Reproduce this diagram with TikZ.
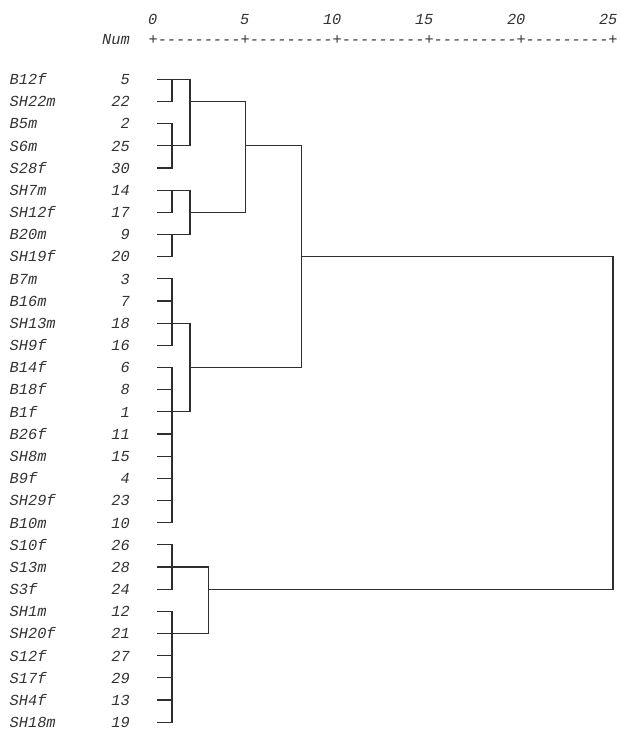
\documentclass[tikz,border=0pt]{standalone}
\usepackage{fontspec}
\setmonofont{Liberation Mono}
\begin{document}
\begin{tikzpicture}[x=1pt,y=-1pt,
  lbl/.style={inner sep=0pt, font=\fontsize{15.33}{18}\selectfont\ttfamily\itshape, text=black!80},
  br/.style={draw=black!82, line width=1.2pt, line cap=rect}]
\useasboundingbox (0,0) rectangle (621,729);
% axis
\foreach \k/\v in {0/0,1/5,2/10,3/15,4/20,5/25}
  \node[lbl, anchor=base east] (ax\v) at (153+\k*92+4.6,24) {\v};
\node[lbl, anchor=base east] (numhead) at (130,44.5) {Num};
\node[lbl, anchor=base west] (scale) at (148.4,44.5) {+---------+---------+---------+---------+---------+};
% rows
\foreach \i/\n/\m in {1/B12f/5,2/SH22m/22,3/B5m/2,4/S6m/25,5/S28f/30,6/SH7m/14,7/SH12f/17,8/B20m/9,9/SH19f/20,10/B7m/3,11/B16m/7,12/SH13m/18,13/SH9f/16,14/B14f/6,15/B18f/8,16/B1f/1,17/B26f/11,18/SH8m/15,19/B9f/4,20/SH29f/23,21/B10m/10,22/S10f/26,23/S13m/28,24/S3f/24,25/SH1m/12,26/SH20f/21,27/S12f/27,28/S17f/29,29/SH4f/13,30/SH18m/19}{
  \pgfmathsetmacro\yy{79.3+(\i-1)*22.17}
  \node[lbl, anchor=base west] (name\i) at (9.5,\yy+5.3) {\n};
  \node[lbl, anchor=base east] (num\i) at (130,\yy+5.3) {\m};
  \coordinate (r\i) at (157.5,\yy);
}
\coordinate (xa) at (172,0);
\coordinate (xb) at (190,0);
\coordinate (xc) at (208.5,0);
\coordinate (xd) at (245.3,0);
\coordinate (xe) at (301.3,0);
\coordinate (xf) at (613,0);
% leaf ticks
\foreach \i in {2,3,5,7,9,10,11,13,14,15,17,18,19,20,21,22,24,25,27,28,29,30}
  \draw[br] (r\i) -- (xa|-r\i);
\foreach \i in {1,4,6,8,12,16}
  \draw[br] (r\i) -- (xb|-r\i);
\foreach \i in {23,26}
  \draw[br] (r\i) -- (xc|-r\i);
% first level
\draw[br] (xa|-r1) -- (xa|-r2);
\draw[br] (xa|-r3) -- (xa|-r5);
\draw[br] (xa|-r6) -- (xa|-r7);
\draw[br] (xa|-r8) -- (xa|-r9);
\draw[br] (xa|-r10) -- (xa|-r13);
\draw[br] (xa|-r14) -- (xa|-r21);
\draw[br] (xa|-r22) -- (xa|-r24);
\draw[br] (xa|-r25) -- (xa|-r30);
% second level
\draw[br] (xb|-r1) -- (xb|-r4);
\draw[br] (xb|-r6) -- (xb|-r8);
\draw[br] (xb|-r12) -- (xb|-r16);
\draw[br] (xb|-r2) -- (xd|-r2);
\draw[br] (xb|-r7) -- (xd|-r7);
\draw[br] (xd|-r2) -- (xd|-r7);
\draw[br] (xd|-r4) -- (xe|-r4);
\draw[br] (xb|-r14) -- (xe|-r14);
\draw[br] (xe|-r4) -- (xe|-r14);
\draw[br] (xe|-r9) -- (xf|-r9);
\draw[br] (xc|-r23) -- (xc|-r26);
\draw[br] (xc|-r24) -- (xf|-r24);
\draw[br] (xf|-r9) -- (xf|-r24);
\end{tikzpicture}
\end{document}
